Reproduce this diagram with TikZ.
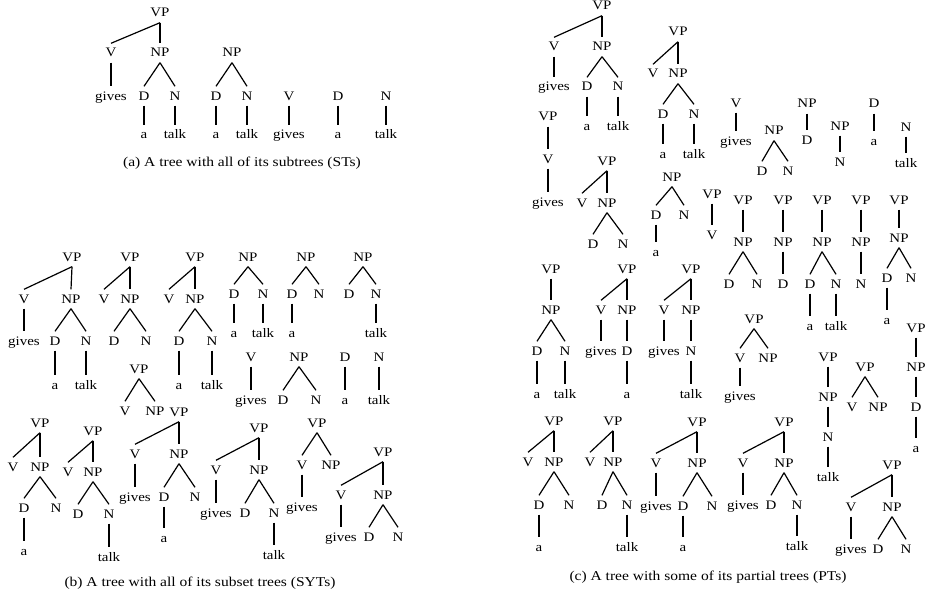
\documentclass[tikz,border=0pt]{standalone}
\usepackage{fontspec}
\setmainfont{Liberation Serif}[FakeStretch=1.15]
\newcommand\mkn[4]{\node[lab] (#1) at (#2,#3) {#4};}
\newcommand\mke[2]{\draw[edge] (#1.south) -- (#2.north);}
\begin{document}
\begin{tikzpicture}[x=1pt,y=-1pt,
  lab/.style={font=\fontsize{13}{15}\selectfont, text height=10pt, text depth=2pt, inner xsep=1pt, inner ysep=3.5pt},
  edge/.style={line width=1.2pt},
  captxt/.style={font=\fontsize{13.5}{16}\selectfont, inner sep=0pt}]
\useasboundingbox (0,0) rectangle (925,599);
% ---------- (a) ----------
\mkn{a1vp}{160}{13}{VP}\mkn{a1v}{111}{53}{V}\mkn{a1np}{160}{53}{NP}
\mkn{a1g}{111}{96}{gives}\mkn{a1d}{144}{96}{D}\mkn{a1n}{175}{96}{N}
\mkn{a1a}{144}{135}{a}\mkn{a1t}{175}{135}{talk}
\mke{a1vp}{a1v}\mke{a1vp}{a1np}\mke{a1v}{a1g}\mke{a1np}{a1d}\mke{a1np}{a1n}\mke{a1d}{a1a}\mke{a1n}{a1t}
\mkn{a2np}{232}{53}{NP}\mkn{a2d}{216}{96}{D}\mkn{a2n}{247}{96}{N}
\mkn{a2a}{216}{135}{a}\mkn{a2t}{247}{135}{talk}
\mke{a2np}{a2d}\mke{a2np}{a2n}\mke{a2d}{a2a}\mke{a2n}{a2t}
\mkn{a3v}{289}{96}{V}\mkn{a3g}{289}{135}{gives}\mke{a3v}{a3g}
\mkn{a4d}{338}{96}{D}\mkn{a4a}{338}{135}{a}\mke{a4d}{a4a}
\mkn{a5n}{386}{96}{N}\mkn{a5t}{386}{135}{talk}\mke{a5n}{a5t}
\node[captxt] (capa) at (242,163) {(a) A tree with all of its subtrees (STs)};
% ---------- (b) ----------
\mkn{b1vp}{72}{257}{VP}\mkn{b1v}{24}{299}{V}\mkn{b1np}{71}{299}{NP}
\mkn{b1g}{24}{341}{gives}\mkn{b1d}{55}{341}{D}\mkn{b1n}{86}{341}{N}
\mkn{b1a}{55}{385}{a}\mkn{b1t}{86}{385}{talk}
\mke{b1vp}{b1v}\mke{b1vp}{b1np}\mke{b1v}{b1g}\mke{b1np}{b1d}\mke{b1np}{b1n}\mke{b1d}{b1a}\mke{b1n}{b1t}
\mkn{b2vp}{130}{257}{VP}\mkn{b2v}{104}{299}{V}\mkn{b2np}{130}{299}{NP}
\mkn{b2d}{114}{341}{D}\mkn{b2n}{146}{341}{N}
\mke{b2vp}{b2v}\mke{b2vp}{b2np}\mke{b2np}{b2d}\mke{b2np}{b2n}
\mkn{b3vp}{195}{257}{VP}\mkn{b3v}{169}{299}{V}\mkn{b3np}{195}{299}{NP}
\mkn{b3d}{179}{341}{D}\mkn{b3n}{212}{341}{N}
\mkn{b3a}{179}{385}{a}\mkn{b3t}{212}{385}{talk}
\mke{b3vp}{b3v}\mke{b3vp}{b3np}\mke{b3np}{b3d}\mke{b3np}{b3n}\mke{b3d}{b3a}\mke{b3n}{b3t}
\mkn{b4np}{248}{257}{NP}\mkn{b4d}{234}{294}{D}\mkn{b4n}{263}{294}{N}
\mkn{b4a}{234}{333}{a}\mkn{b4t}{263}{333}{talk}
\mke{b4np}{b4d}\mke{b4np}{b4n}\mke{b4d}{b4a}\mke{b4n}{b4t}
\mkn{b5np}{306}{257}{NP}\mkn{b5d}{292}{294}{D}\mkn{b5n}{319}{294}{N}
\mkn{b5a}{292}{333}{a}
\mke{b5np}{b5d}\mke{b5np}{b5n}\mke{b5d}{b5a}
\mkn{b6np}{363}{257}{NP}\mkn{b6d}{349}{294}{D}\mkn{b6n}{376}{294}{N}
\mkn{b6t}{376}{333}{talk}
\mke{b6np}{b6d}\mke{b6np}{b6n}\mke{b6n}{b6t}
\mkn{b7vp}{139}{369}{VP}\mkn{b7v}{125}{411}{V}\mkn{b7np}{155}{411}{NP}
\mke{b7vp}{b7v}\mke{b7vp}{b7np}
\mkn{b14v}{251}{357}{V}\mkn{b14g}{251}{400}{gives}\mke{b14v}{b14g}
\mkn{b15np}{299}{357}{NP}\mkn{b15d}{283}{400}{D}\mkn{b15n}{316}{400}{N}
\mke{b15np}{b15d}\mke{b15np}{b15n}
\mkn{b16d}{345}{357}{D}\mkn{b16a}{345}{400}{a}\mke{b16d}{b16a}
\mkn{b17n}{379}{357}{N}\mkn{b17t}{379}{400}{talk}\mke{b17n}{b17t}
\mkn{b8vp}{40}{423}{VP}\mkn{b8v}{13}{467}{V}\mkn{b8np}{40}{467}{NP}
\mkn{b8d}{24}{508}{D}\mkn{b8n}{56}{508}{N}\mkn{b8a}{24}{551}{a}
\mke{b8vp}{b8v}\mke{b8vp}{b8np}\mke{b8np}{b8d}\mke{b8np}{b8n}\mke{b8d}{b8a}
\mkn{b9vp}{93}{431}{VP}\mkn{b9v}{68}{472}{V}\mkn{b9np}{93}{472}{NP}
\mkn{b9d}{78}{514}{D}\mkn{b9n}{109}{514}{N}\mkn{b9t}{109}{557}{talk}
\mke{b9vp}{b9v}\mke{b9vp}{b9np}\mke{b9np}{b9d}\mke{b9np}{b9n}\mke{b9n}{b9t}
\mkn{b10vp}{179}{412}{VP}\mkn{b10v}{135}{454}{V}\mkn{b10np}{179}{454}{NP}
\mkn{b10g}{135}{497}{gives}\mkn{b10d}{164}{497}{D}\mkn{b10n}{195}{497}{N}
\mkn{b10a}{164}{538}{a}
\mke{b10vp}{b10v}\mke{b10vp}{b10np}\mke{b10v}{b10g}\mke{b10np}{b10d}\mke{b10np}{b10n}\mke{b10d}{b10a}
\mkn{b11vp}{259}{428}{VP}\mkn{b11v}{216}{470}{V}\mkn{b11np}{259}{470}{NP}
\mkn{b11g}{216}{513}{gives}\mkn{b11d}{245}{513}{D}\mkn{b11n}{274}{513}{N}
\mkn{b11t}{274}{555}{talk}
\mke{b11vp}{b11v}\mke{b11vp}{b11np}\mke{b11v}{b11g}\mke{b11np}{b11d}\mke{b11np}{b11n}\mke{b11n}{b11t}
\mkn{b12vp}{317}{423}{VP}\mkn{b12v}{302}{465}{V}\mkn{b12np}{331}{465}{NP}
\mkn{b12g}{302}{507}{gives}
\mke{b12vp}{b12v}\mke{b12vp}{b12np}\mke{b12v}{b12g}
\mkn{b13vp}{383}{452}{VP}\mkn{b13v}{341}{495}{V}\mkn{b13np}{383}{495}{NP}
\mkn{b13g}{341}{537}{gives}\mkn{b13d}{369}{537}{D}\mkn{b13n}{398}{537}{N}
\mke{b13vp}{b13v}\mke{b13vp}{b13np}\mke{b13v}{b13g}\mke{b13np}{b13d}\mke{b13np}{b13n}
\node[captxt] (capb) at (200,583) {(b) A tree with all of its subset trees (SYTs)};
% ---------- (c) ----------
\mkn{c1vp}{602}{6}{VP}\mkn{c1v}{554}{47}{V}\mkn{c1np}{602}{47}{NP}
\mkn{c1g}{554}{87}{gives}\mkn{c1d}{587}{87}{D}\mkn{c1n}{618}{87}{N}
\mkn{c1a}{587}{126}{a}\mkn{c1t}{618}{126}{talk}
\mke{c1vp}{c1v}\mke{c1vp}{c1np}\mke{c1v}{c1g}\mke{c1np}{c1d}\mke{c1np}{c1n}\mke{c1d}{c1a}\mke{c1n}{c1t}
\mkn{c2vp}{678}{32}{VP}\mkn{c2v}{653}{74}{V}\mkn{c2np}{678}{74}{NP}
\mkn{c2d}{663}{114}{D}\mkn{c2n}{694}{114}{N}
\mkn{c2a}{663}{154}{a}\mkn{c2t}{694}{154}{talk}
\mke{c2vp}{c2v}\mke{c2vp}{c2np}\mke{c2np}{c2d}\mke{c2np}{c2n}\mke{c2d}{c2a}\mke{c2n}{c2t}
\mkn{c3vp}{548}{117}{VP}\mkn{c3v}{548}{159}{V}\mkn{c3g}{548}{202}{gives}
\mke{c3vp}{c3v}\mke{c3v}{c3g}
\mkn{c4vp}{607}{161}{VP}\mkn{c4v}{582}{203}{V}\mkn{c4np}{607}{203}{NP}
\mkn{c4d}{593}{244}{D}\mkn{c4n}{623}{244}{N}
\mke{c4vp}{c4v}\mke{c4vp}{c4np}\mke{c4np}{c4d}\mke{c4np}{c4n}
\mkn{c5np}{672}{177}{NP}\mkn{c5d}{656}{215}{D}\mkn{c5n}{684}{215}{N}
\mkn{c5a}{656}{252}{a}
\mke{c5np}{c5d}\mke{c5np}{c5n}\mke{c5d}{c5a}
\mkn{c6vp}{712}{194}{VP}\mkn{c6v}{712}{235}{V}\mke{c6vp}{c6v}
\mkn{c7v}{736}{103}{V}\mkn{c7g}{736}{141}{gives}\mke{c7v}{c7g}
\mkn{c8np}{774}{131}{NP}\mkn{c8d}{762}{171}{D}\mkn{c8n}{788}{171}{N}
\mke{c8np}{c8d}\mke{c8np}{c8n}
\mkn{c9np}{807}{104}{NP}\mkn{c9d}{807}{140}{D}\mke{c9np}{c9d}
\mkn{c10np}{840}{126}{NP}\mkn{c10n}{840}{162}{N}\mke{c10np}{c10n}
\mkn{c11d}{874}{104}{D}\mkn{c11a}{874}{141}{a}\mke{c11d}{c11a}
\mkn{c12n}{906}{127}{N}\mkn{c12t}{906}{163}{talk}\mke{c12n}{c12t}
\mkn{c13vp}{743}{200}{VP}\mkn{c13np}{743}{242}{NP}
\mkn{c13d}{729}{284}{D}\mkn{c13n}{757}{284}{N}
\mke{c13vp}{c13np}\mke{c13np}{c13d}\mke{c13np}{c13n}
\mkn{c14vp}{783}{200}{VP}\mkn{c14np}{783}{242}{NP}\mkn{c14d}{783}{284}{D}
\mke{c14vp}{c14np}\mke{c14np}{c14d}
\mkn{c15vp}{822}{200}{VP}\mkn{c15np}{822}{242}{NP}
\mkn{c15d}{810}{284}{D}\mkn{c15n}{836}{284}{N}
\mkn{c15a}{810}{326}{a}\mkn{c15t}{836}{326}{talk}
\mke{c15vp}{c15np}\mke{c15np}{c15d}\mke{c15np}{c15n}\mke{c15d}{c15a}\mke{c15n}{c15t}
\mkn{c16vp}{861}{200}{VP}\mkn{c16np}{861}{242}{NP}\mkn{c16n}{861}{284}{N}
\mke{c16vp}{c16np}\mke{c16np}{c16n}
\mkn{c17vp}{899}{200}{VP}\mkn{c17np}{899}{238}{NP}
\mkn{c17d}{887}{278}{D}\mkn{c17n}{911}{278}{N}\mkn{c17a}{887}{320}{a}
\mke{c17vp}{c17np}\mke{c17np}{c17d}\mke{c17np}{c17n}\mke{c17d}{c17a}
\mkn{c18vp}{551}{269}{VP}\mkn{c18np}{551}{310}{NP}
\mkn{c18d}{537}{351}{D}\mkn{c18n}{565}{351}{N}
\mkn{c18a}{537}{394}{a}\mkn{c18t}{565}{394}{talk}
\mke{c18vp}{c18np}\mke{c18np}{c18d}\mke{c18np}{c18n}\mke{c18d}{c18a}\mke{c18n}{c18t}
\mkn{c19vp}{627}{269}{VP}\mkn{c19v}{601}{310}{V}\mkn{c19np}{627}{310}{NP}
\mkn{c19g}{601}{351}{gives}\mkn{c19d}{627}{351}{D}\mkn{c19a}{627}{394}{a}
\mke{c19vp}{c19v}\mke{c19vp}{c19np}\mke{c19v}{c19g}\mke{c19np}{c19d}\mke{c19d}{c19a}
\mkn{c20vp}{691}{269}{VP}\mkn{c20v}{664}{310}{V}\mkn{c20np}{691}{310}{NP}
\mkn{c20g}{664}{351}{gives}\mkn{c20n}{691}{351}{N}\mkn{c20t}{691}{394}{talk}
\mke{c20vp}{c20v}\mke{c20vp}{c20np}\mke{c20v}{c20g}\mke{c20np}{c20n}\mke{c20n}{c20t}
\mkn{c21vp}{754}{319}{VP}\mkn{c21v}{740}{358}{V}\mkn{c21np}{768}{358}{NP}
\mkn{c21g}{740}{396}{gives}
\mke{c21vp}{c21v}\mke{c21vp}{c21np}\mke{c21v}{c21g}
\mkn{c22vp}{828}{357}{VP}\mkn{c22np}{828}{397}{NP}\mkn{c22n}{828}{437}{N}
\mkn{c22t}{828}{477}{talk}
\mke{c22vp}{c22np}\mke{c22np}{c22n}\mke{c22n}{c22t}
\mkn{c23vp}{865}{367}{VP}\mkn{c23v}{852}{407}{V}\mkn{c23np}{878}{407}{NP}
\mke{c23vp}{c23v}\mke{c23vp}{c23np}
\mkn{c24vp}{916}{328}{VP}\mkn{c24np}{916}{367}{NP}\mkn{c24d}{916}{407}{D}
\mkn{c24a}{916}{448}{a}
\mke{c24vp}{c24np}\mke{c24np}{c24d}\mke{c24d}{c24a}
\mkn{c25vp}{554}{421}{VP}\mkn{c25v}{528}{462}{V}\mkn{c25np}{554}{462}{NP}
\mkn{c25d}{539}{505}{D}\mkn{c25n}{569}{505}{N}\mkn{c25a}{539}{547}{a}
\mke{c25vp}{c25v}\mke{c25vp}{c25np}\mke{c25np}{c25d}\mke{c25np}{c25n}\mke{c25d}{c25a}
\mkn{c26vp}{613}{421}{VP}\mkn{c26v}{590}{462}{V}\mkn{c26np}{613}{462}{NP}
\mkn{c26d}{602}{505}{D}\mkn{c26n}{627}{505}{N}\mkn{c26t}{627}{547}{talk}
\mke{c26vp}{c26v}\mke{c26vp}{c26np}\mke{c26np}{c26d}\mke{c26np}{c26n}\mke{c26n}{c26t}
\mkn{c27vp}{697}{422}{VP}\mkn{c27v}{656}{463}{V}\mkn{c27np}{697}{463}{NP}
\mkn{c27g}{656}{506}{gives}\mkn{c27d}{683}{506}{D}\mkn{c27n}{712}{506}{N}
\mkn{c27a}{683}{547}{a}
\mke{c27vp}{c27v}\mke{c27vp}{c27np}\mke{c27v}{c27g}\mke{c27np}{c27d}\mke{c27np}{c27n}\mke{c27d}{c27a}
\mkn{c28vp}{784}{422}{VP}\mkn{c28v}{743}{463}{V}\mkn{c28np}{784}{463}{NP}
\mkn{c28g}{743}{505}{gives}\mkn{c28d}{771}{505}{D}\mkn{c28n}{797}{505}{N}
\mkn{c28t}{797}{546}{talk}
\mke{c28vp}{c28v}\mke{c28vp}{c28np}\mke{c28v}{c28g}\mke{c28np}{c28d}\mke{c28np}{c28n}\mke{c28n}{c28t}
\mkn{c29vp}{892}{465}{VP}\mkn{c29v}{851}{507}{V}\mkn{c29np}{892}{507}{NP}
\mkn{c29g}{851}{549}{gives}\mkn{c29d}{878}{549}{D}\mkn{c29n}{906}{549}{N}
\mke{c29vp}{c29v}\mke{c29vp}{c29np}\mke{c29v}{c29g}\mke{c29np}{c29d}\mke{c29np}{c29n}
\node[captxt] (capc) at (708,577) {(c) A tree with some of its partial trees (PTs)};
\end{tikzpicture}
\end{document}
